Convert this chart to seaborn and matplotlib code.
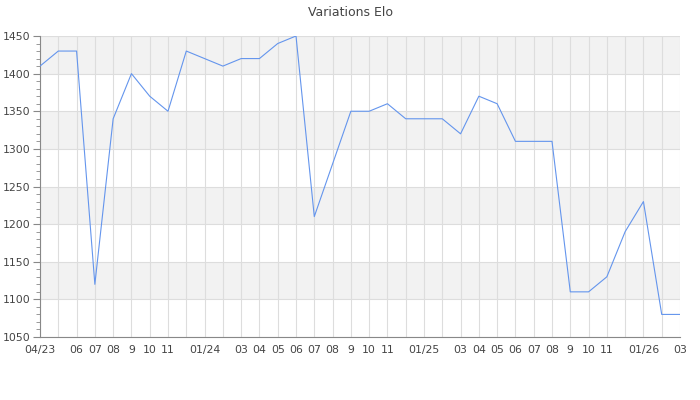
import matplotlib
matplotlib.use("Agg")
import matplotlib.pyplot as plt
from matplotlib.ticker import MultipleLocator
import seaborn as sns
import pandas as pd

months = ["04/23", "05/23", "06/23", "07/23", "08/23", "09/23", "10/23", "11/23", "12/23",
          "01/24", "02/24", "03/24", "04/24", "05/24", "06/24", "07/24", "08/24", "09/24",
          "10/24", "11/24", "12/24", "01/25", "02/25", "03/25", "04/25", "05/25", "06/25",
          "07/25", "08/25", "09/25", "10/25", "11/25", "12/25", "01/26", "02/26", "03/26"]
elo = [1410, 1430, 1430, 1120, 1340, 1400, 1370, 1350, 1430, 1420, 1410, 1420, 1420, 1440,
       1450, 1210, 1280, 1350, 1350, 1360, 1340, 1340, 1340, 1320, 1370, 1360, 1310, 1310,
       1310, 1110, 1110, 1130, 1190, 1230, 1080, 1080]
tick_labels = ["04/23", "", "06", "07", "08", "9", "10", "11", "",
               "01/24", "", "03", "04", "05", "06", "07", "08", "9",
               "10", "11", "", "01/25", "", "03", "04", "05", "06",
               "07", "08", "9", "10", "11", "", "01/26", "", "03"]
y_ticks = [1050, 1100, 1150, 1200, 1250, 1300, 1350, 1400, 1450]

df = pd.DataFrame({"idx": range(len(months)), "elo": elo})

sns.set_theme(style="white")
plt.rcParams['font.family'] = ['DejaVu Sans']

fig = plt.figure(figsize=(7, 4), dpi=100)
ax = fig.add_axes([40/700, 63/400, 640/700, 301/400])

# alternating bands
for i in range(len(y_ticks) - 1):
    if i % 2 == 1:
        ax.axhspan(y_ticks[i], y_ticks[i + 1], color="#f2f2f2", zorder=0, lw=0)

sns.lineplot(data=df, x="idx", y="elo", ax=ax, color="#6495ED", linewidth=0.8, zorder=3)

ax.set_xlim(0, len(months) - 1)
ax.set_ylim(y_ticks[0], y_ticks[-1])
ax.set_xticks(range(len(months)))
ax.set_xticklabels(tick_labels)
ax.set_yticks(y_ticks)
ax.yaxis.set_minor_locator(MultipleLocator(10))
ax.grid(True, which="major", color="#dddddd", linewidth=0.8, zorder=1)
ax.set_axisbelow(True)
ax.set_xlabel("")
ax.set_ylabel("")

for s in ["top", "right"]:
    ax.spines[s].set_visible(False)
for s in ["left", "bottom"]:
    ax.spines[s].set_color("#888888")
    ax.spines[s].set_linewidth(0.8)

ax.tick_params(axis="y", which="major", left=True, length=5, width=0.8, color="#888888",
               labelsize=7.8, labelcolor="#444444", pad=2)
ax.tick_params(axis="y", which="minor", left=True, length=3, width=0.6, color="#888888")
ax.tick_params(axis="x", which="major", bottom=False, length=0, labelsize=7.8,
               labelcolor="#444444", pad=6)

fig.text(0.5, 1 - 12/400, "Variations Elo", ha="center", va="center",
         fontsize=9, color="#444444")

fig.savefig("out.png", dpi=100)
